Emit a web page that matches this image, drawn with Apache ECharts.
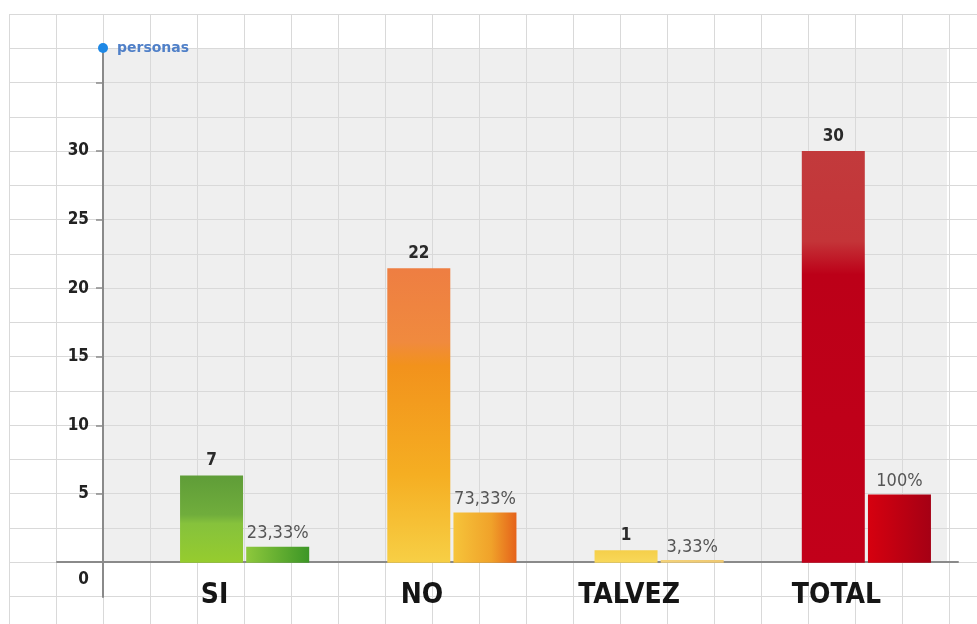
<!DOCTYPE html>
<html>
<head>
<meta charset="utf-8">
<script src="https://cdn.jsdelivr.net/npm/echarts@6/dist/echarts.min.js"></script>
<style>
html,body{margin:0;padding:0;background:#ffffff;}
#chart{width:977px;height:624px;}
</style>
</head>
<body>
<div id="chart"></div>
<script>
// ---- data ----
const categories = ['SI', 'NO', 'TALVEZ', 'TOTAL'];
const countLabels = [7, 22, 1, 30];              // numbers printed above the count bars
const countHeights = [6.35, 21.45, 0.9, 30];      // bar tops as drawn on the y axis
const percentages = [23.33, 73.33, 3.33, 100];    // numbers printed above the percent bars
const percentHeights = [1.17, 3.65, 0.2, 4.96];   // bar tops as drawn on the y axis
const yTickValues = [5, 10, 15, 20, 25, 30, 35];
const yLabelValues = [0, 5, 10, 15, 20, 25, 30];
const axisName = 'personas';

// ---- styles ----
const FONT = "'DejaVu Sans Condensed', 'DejaVu Sans', sans-serif";
function vgrad(stops) {
  return { type: 'linear', x: 0, y: 0, x2: 0, y2: 1,
    colorStops: stops.map(s => ({ offset: s[0], color: s[1] })) };
}
function hgrad(stops) {
  return { type: 'linear', x: 0, y: 0, x2: 1, y2: 0,
    colorStops: stops.map(s => ({ offset: s[0], color: s[1] })) };
}
const countColors = [
  vgrad([[0, '#5f9d38'], [0.45, '#70ad3c'], [0.55, '#86c23c'], [1, '#96cc2e']]),
  vgrad([[0, '#ee7e42'], [0.25, '#f08a3e'], [0.33, '#f2921c'], [0.7, '#f5ae22'], [1, '#f7cf45']]),
  vgrad([[0, '#f5cf4a'], [1, '#f8d85a']]),
  vgrad([[0, '#c23a3c'], [0.22, '#c43438'], [0.3, '#bc0018'], [1, '#c2001a']])
];
const percentColors = [
  hgrad([[0, '#8ec83c'], [1, '#3c9626']]),
  hgrad([[0, '#f6c43a'], [0.6, '#f0a22a'], [1, '#e5621a']]),
  hgrad([[0, '#f3d27a'], [1, '#eec872']]),
  hgrad([[0, '#d6000f'], [1, '#a50014']])
];

const countData = countHeights.map((v, i) => ({
  value: v, label: countLabels[i], itemStyle: { color: countColors[i] }
}));
const percentData = percentHeights.map((v, i) => ({
  value: v, label: String(percentages[i]).replace('.', ',') + '%', itemStyle: { color: percentColors[i] }
}));

const chart = echarts.init(document.getElementById('chart'), null, { renderer: 'canvas' });
const option = {
  animation: false,
  backgroundColor: '#ffffff',
  grid: [
    // 0: main chart
    { left: 141, right: 7, top: 48, bottom: 27, containLabel: false, outerBoundsMode: 'none', z: 3 },
    // 1: grey panel
    { left: 103, right: 30, top: 48, bottom: 62, show: true, backgroundColor: '#efefef', borderWidth: 0,
      outerBoundsMode: 'none', z: 0 },
    // 2: zero line
    { left: 57, right: 19, top: 48, bottom: 62, outerBoundsMode: 'none', z: 2 },
    // 3: background paper grid
    { left: 9, right: 0, top: 14, bottom: 0, outerBoundsMode: 'none', z: 1 }
  ],
  xAxis: [
    { gridIndex: 0, type: 'category', data: categories,
      axisLine: { show: false, onZero: false },
      axisTick: { show: false },
      axisLabel: { margin: -15, fontFamily: FONT, fontWeight: 'bold', fontSize: 28, color: '#151515',
        padding: [0, 60, 0, 0] },
      z: 5 },
    { gridIndex: 1, type: 'value', show: false },
    { gridIndex: 2, type: 'value', min: 0, max: 1, position: 'bottom',
      axisLine: { show: true, onZero: false, lineStyle: { color: '#8a8a8a', width: 2 } },
      axisTick: { show: false }, axisLabel: { show: false }, splitLine: { show: false }, z: 4 },
    { gridIndex: 3, type: 'value', min: 0, max: 968 / 47, interval: 1,
      axisLine: { show: false }, axisTick: { show: false }, axisLabel: { show: false },
      splitLine: { show: true, lineStyle: { color: '#d9d9d9', width: 1 } }, z: 1 }
  ],
  yAxis: [
    { gridIndex: 0, type: 'value', position: 'left', min: -2.5, max: 37.5, offset: 38,
      axisLine: { show: true, lineStyle: { color: '#8a8a8a', width: 2 } },
      axisTick: { show: true, length: 7, customValues: yTickValues, lineStyle: { color: '#8a8a8a', width: 1.5 } },
      axisLabel: { customValues: yLabelValues, margin: 14, fontFamily: FONT, fontWeight: 'bold',
        fontSize: 17, color: '#222222',
        formatter: v => (v === 0 ? '{z|0}' : String(v)),
        rich: { z: { fontFamily: FONT, fontWeight: 'bold', fontSize: 17, color: '#222222', padding: [34, 0, 0, 0] } } },
      splitLine: { show: false }, z: 5 },
    { gridIndex: 0, type: 'value', position: 'left', min: -2.5, max: 37.5, offset: 38,
      axisLine: { show: true, symbol: ['none', 'circle'], symbolSize: [13, 10],
        lineStyle: { color: '#1e88e5', width: 0.01 } },
      axisTick: { show: false }, axisLabel: { show: false }, splitLine: { show: false },
      name: axisName, nameLocation: 'end', nameGap: 0,
      nameTextStyle: { align: 'left', verticalAlign: 'middle', padding: [0, 0, 0, 14],
        fontFamily: "'DejaVu Sans', sans-serif", fontWeight: 'bold', fontSize: 14, color: '#5080c8' }, z: 6 },
    { gridIndex: 1, type: 'value', show: false },
    { gridIndex: 2, type: 'value', show: false },
    { gridIndex: 3, type: 'value', inverse: true, min: 0, max: 610 / 34.25, interval: 1,
      axisLine: { show: false }, axisTick: { show: false }, axisLabel: { show: false },
      splitLine: { show: true, lineStyle: { color: '#d9d9d9', width: 1 } }, z: 1 }
  ],
  series: [
    { name: 'personas', type: 'bar', xAxisIndex: 0, yAxisIndex: 0, data: countData,
      barWidth: 63, barGap: '5%', z: 6,
      label: { show: true, position: 'top', distance: 6, fontFamily: FONT, fontWeight: 'bold',
        fontSize: 17, color: '#2a2a2a', formatter: p => p.data.label } },
    { name: 'porcentaje', type: 'bar', xAxisIndex: 0, yAxisIndex: 0, data: percentData,
      barWidth: 63, z: 6,
      label: { show: true, position: 'top', distance: 4, fontFamily: FONT,
        fontSize: 18, color: '#555555', formatter: p => p.data.label } }
  ]
};
chart.setOption(option);
</script>
</body>
</html>
